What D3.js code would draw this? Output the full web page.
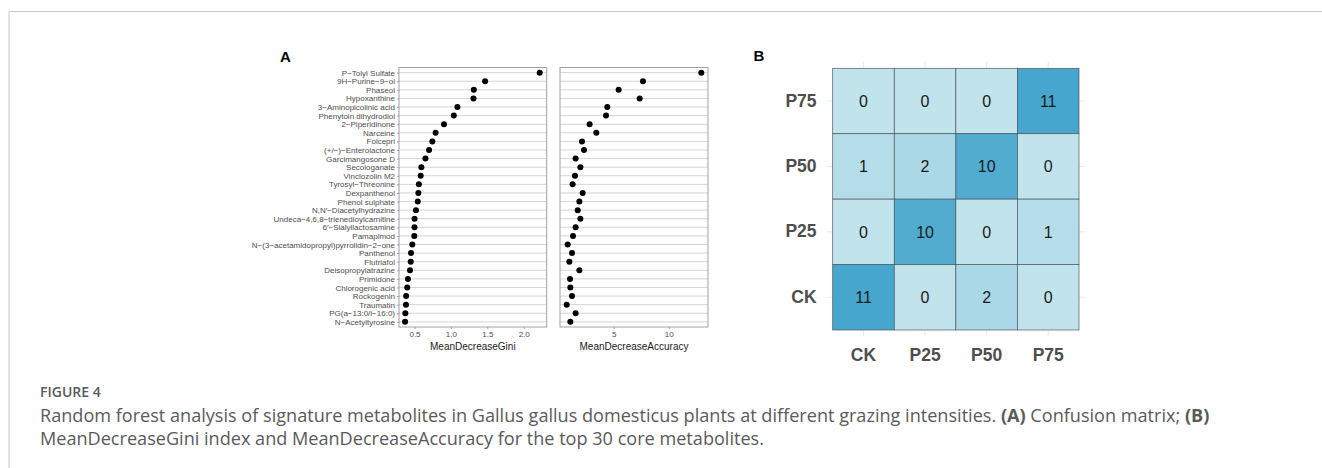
<!DOCTYPE html>
<html>
<head>
<meta charset="utf-8">
<script src="https://cdn.jsdelivr.net/npm/d3@7"></script>
<style>
  body { margin: 0; background: #fff; }
  svg text { font-family: "Liberation Sans", Arial, sans-serif; }
  .caption { font-family: "Open Sans", sans-serif; fill: #5a5a5a; }
  .axis-lab { fill: #4d4d4d; font-size: 8px; }
</style>
</head>
<body>
<svg id="fig"></svg>
<script>
// metabolites, top to bottom
const metabolites = ['P\u2212Tolyl Sulfate', '9H\u2212Purine\u22129\u2212ol', 'Phaseol', 'Hypoxanthine',
  '3\u2212Aminopicolinic acid', 'Phenytoin dihydrodiol', '2\u2212Piperidinone', 'Narceine', 'Folcepri',
  '(+/\u2212)\u2212Enterolactone', 'Garcimangosone D', 'Secologanate', 'Vinclozolin M2', 'Tyrosyl\u2212Threonine',
  'Dexpanthenol', 'Phenol sulphate', 'N,N\u2032\u2212Diacetylhydrazine', 'Undeca\u22124,6,8\u2212trienedioylcarnitine',
  '6\u2032\u2212Sialyllactosamine', 'Pamapimod', 'N\u2212(3\u2212acetamidopropyl)pyrrolidin\u22122\u2212one', 'Panthenol',
  'Flutriafol', 'Deisopropylatrazine', 'Primidone', 'Chlorogenic acid', 'Rockogenin', 'Traumatin',
  'PG(a\u221213:0/i\u221216:0)', 'N\u2212Acetyltyrosine'];
const gini = [2.22, 1.47, 1.315, 1.31, 1.09, 1.04, 0.905, 0.79, 0.745, 0.70, 0.65, 0.594, 0.585, 0.56,
  0.553, 0.545, 0.52, 0.50, 0.50, 0.497, 0.47, 0.452, 0.448, 0.438, 0.41, 0.40, 0.385, 0.383, 0.374, 0.37];
const accuracy = [12.95, 7.65, 5.44, 7.35, 4.41, 4.29, 2.8, 3.41, 2.11, 2.29, 1.53, 1.96, 1.47, 1.26,
  2.17, 1.87, 1.72, 1.96, 1.53, 1.29, 0.81, 1.2, 0.96, 1.87, 1.02, 1.05, 1.2, 0.72, 1.53, 1.05];
const giniTicks = [0.5, 1.0, 1.5, 2.0];
const accTicks = [5, 10];

// confusion matrix
const groups = ['CK', 'P25', 'P50', 'P75'];
const matrixRows = ['P75', 'P50', 'P25', 'CK'];
const matrix = [
  [0, 0, 0, 11],
  [1, 2, 10, 0],
  [0, 10, 0, 1],
  [11, 0, 2, 0]
];

const captionTitle = 'FIGURE 4';
const captionLines = [
  [['Random forest analysis of signature metabolites in Gallus gallus domesticus plants at different grazing intensities. ', false], ['(A)', true], [' Confusion matrix; ', false], ['(B)', true]],
  [['MeanDecreaseGini index and MeanDecreaseAccuracy for the top 30 core metabolites.', false]]
];

const W = 1322, H = 468;
const svg = d3.select('#fig').attr('width', W).attr('height', H);

// figure frame
svg.append('path')
  .attr('d', `M9,${H} V11.5 H${W}`)
  .attr('fill', 'none').attr('stroke', '#c8c8c8').attr('stroke-width', 1);

// ---------- panel A : dot plots ----------
const panelTop = 67.5, panelBottom = 327;
const yScale = d3.scalePoint().domain(metabolites).range([panelTop, panelBottom]).padding(0.6);

function dotPanel(x0, x1, domain, values, ticks, title, showLabels) {
  const x = d3.scaleLinear().domain(domain).range([x0, x1]);
  const g = svg.append('g');

  g.selectAll('.grid').data(metabolites).join('line')
    .attr('x1', x0).attr('x2', x1)
    .attr('y1', d => yScale(d)).attr('y2', d => yScale(d))
    .attr('stroke', '#d4d4d4').attr('stroke-width', 1);

  g.append('rect')
    .attr('x', x0).attr('y', panelTop).attr('width', x1 - x0).attr('height', panelBottom - panelTop)
    .attr('fill', 'none').attr('stroke', '#a0a0a0').attr('stroke-width', 1);

  g.selectAll('circle').data(metabolites).join('circle')
    .attr('cx', (d, i) => x(values[i]))
    .attr('cy', d => yScale(d))
    .attr('r', 3).attr('fill', '#000');

  const ax = g.append('g').attr('transform', `translate(0,${panelBottom})`)
    .call(d3.axisBottom(x).tickValues(ticks).tickSize(2).tickPadding(2)
      .tickFormat(d => domain[1] > 5 ? d : d3.format('.1f')(d)));
  ax.select('.domain').remove();
  ax.selectAll('line').attr('stroke', '#a0a0a0');
  ax.selectAll('text').attr('class', 'axis-lab').style('font-family', '"Liberation Sans", Arial, sans-serif');

  g.append('text')
    .attr('x', (x0 + x1) / 2).attr('y', panelBottom + 23)
    .attr('text-anchor', 'middle')
    .attr('font-size', 10).attr('fill', '#1a1a1a')
    .text(title);

  if (showLabels) {
    const ay = g.append('g').attr('transform', `translate(${x0},0)`)
      .call(d3.axisLeft(yScale).tickSize(2).tickPadding(2));
    ay.select('.domain').remove();
    ay.selectAll('line').attr('stroke', '#a0a0a0');
    ay.selectAll('text').attr('class', 'axis-lab').style('font-family', '"Liberation Sans", Arial, sans-serif');
  }
}

dotPanel(399, 546.7, [0.287, 2.316], gini, giniTicks, 'MeanDecreaseGini', true);
dotPanel(560, 708, [0.11, 13.56], accuracy, accTicks, 'MeanDecreaseAccuracy', false);

// ---------- panel B : confusion matrix ----------
const hx = d3.scaleBand().domain(groups).range([832.7, 1079]);
const hy = d3.scaleBand().domain(matrixRows).range([68.3, 330]);
const color = d3.scaleLinear().domain([0, 11]).range(['#c0e3ec', '#46a6cd']);
const ex = hx.bandwidth() * 0.1, ey = hy.bandwidth() * 0.1;

const hb = svg.append('g');
hb.selectAll('.vgrid').data(groups).join('line')
  .attr('x1', d => hx(d) + hx.bandwidth() / 2).attr('x2', d => hx(d) + hx.bandwidth() / 2)
  .attr('y1', 68.3 - ey).attr('y2', 330 + ey)
  .attr('stroke', '#ebebeb').attr('stroke-width', 1.1);
hb.selectAll('.hgrid').data(matrixRows).join('line')
  .attr('y1', d => hy(d) + hy.bandwidth() / 2).attr('y2', d => hy(d) + hy.bandwidth() / 2)
  .attr('x1', 832.7 - ex).attr('x2', 1079 + ex)
  .attr('stroke', '#ebebeb').attr('stroke-width', 1.1);

const cells = [];
matrixRows.forEach((r, i) => groups.forEach((c, j) => cells.push({ r, c, v: matrix[i][j] })));

hb.selectAll('rect').data(cells).join('rect')
  .attr('x', d => hx(d.c)).attr('y', d => hy(d.r))
  .attr('width', hx.bandwidth()).attr('height', hy.bandwidth())
  .attr('fill', d => color(d.v))
  .attr('stroke', '#4d5a60').attr('stroke-width', 0.7);

hb.selectAll('.num').data(cells).join('text')
  .attr('x', d => hx(d.c) + hx.bandwidth() / 2)
  .attr('y', d => hy(d.r) + hy.bandwidth() / 2)
  .attr('text-anchor', 'middle').attr('dy', '0.36em')
  .attr('font-size', 16).attr('fill', '#1a1a1a')
  .text(d => d.v);

const bx = hb.append('g').attr('transform', `translate(0,${330 + ey})`)
  .call(d3.axisBottom(hx).tickSize(0).tickPadding(12));
bx.select('.domain').remove();
bx.selectAll('text').attr('font-size', 17.5).attr('font-weight', 'bold').attr('fill', '#4d4d4d')
  .style('font-family', '"Liberation Sans", Arial, sans-serif');

const by = hb.append('g').attr('transform', `translate(${832.7 - ex},0)`)
  .call(d3.axisLeft(hy).tickSize(0).tickPadding(10));
by.select('.domain').remove();
by.selectAll('text').attr('font-size', 17.5).attr('font-weight', 'bold').attr('fill', '#4d4d4d')
  .style('font-family', '"Liberation Sans", Arial, sans-serif');

// panel letters
svg.append('text').attr('x', 280).attr('y', 62).attr('font-size', 15).attr('font-weight', 'bold').text('A');
svg.append('text').attr('x', 753.5).attr('y', 61).attr('font-size', 15).attr('font-weight', 'bold').text('B');

// ---------- caption ----------
svg.append('text').attr('class', 'caption')
  .attr('x', 40).attr('y', 396.5).attr('font-size', 14).attr('font-weight', 600).attr('fill', '#666')
  .text(captionTitle);

captionLines.forEach((line, i) => {
  const t = svg.append('text').attr('class', 'caption')
    .attr('x', 40).attr('y', 422 + i * 23).attr('font-size', 18.1);
  line.forEach(([s, b]) => t.append('tspan').attr('font-weight', b ? 'bold' : null).text(s));
});
</script>
</body>
</html>
